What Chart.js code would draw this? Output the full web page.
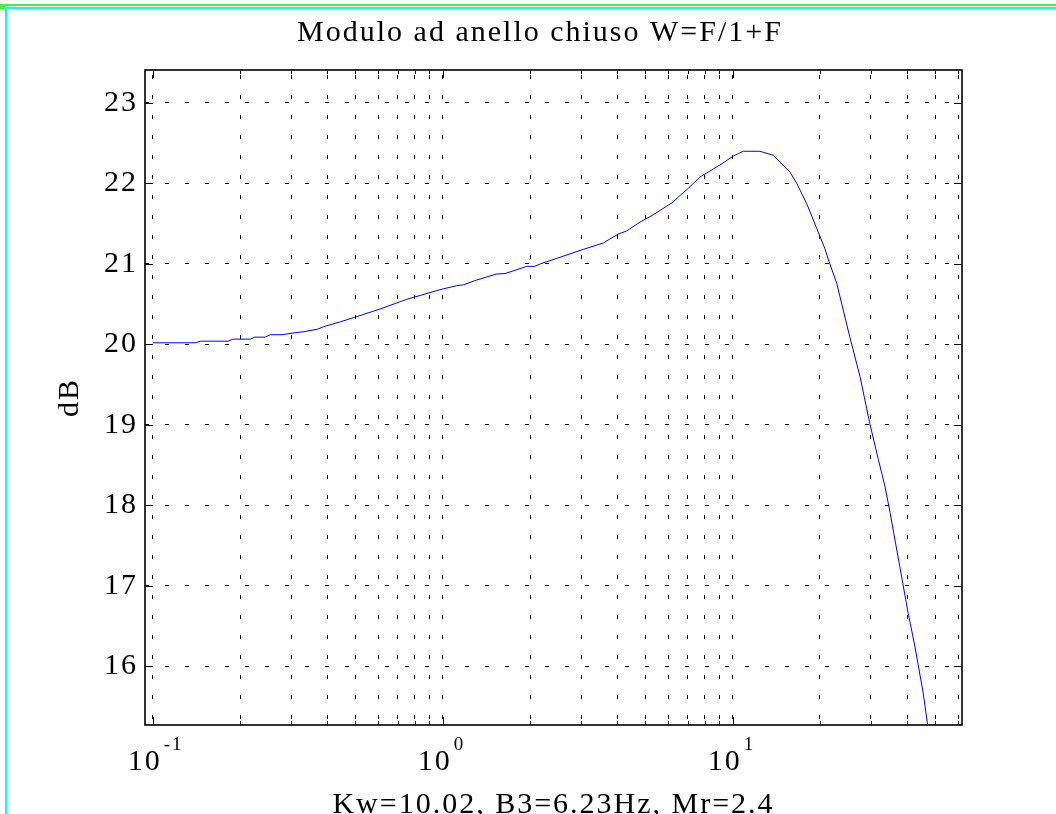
<!DOCTYPE html>
<html><head><meta charset="utf-8">
<script src="https://cdn.jsdelivr.net/npm/chart.js@4/dist/chart.umd.min.js"></script>
<style>html,body{margin:0;padding:0;background:#fff;overflow:hidden}canvas{display:block}</style>
</head><body>
<canvas id="c" width="1056" height="814"></canvas>
<script>
// ---- data ----
const freqHz = [0.1, 0.14, 0.146, 0.182, 0.189, 0.217, 0.225, 0.244, 0.254, 0.279, 0.302, 0.335, 0.371, 0.388, 0.443, 0.505, 0.608, 0.751, 0.979, 1.117, 1.178, 1.31, 1.535, 1.64, 1.95, 2.08, 2.17, 3.05, 3.58, 3.77, 4.03, 4.31, 4.79, 5.32, 6.24, 6.58, 6.94, 7.31, 7.71, 8.13, 9.04, 10.05, 10.45, 10.88, 12.42, 13.8, 15.77, 16.64, 18.0, 19.5, 20.8, 21.4, 22.85, 25.4, 27.5, 29.7, 31.8, 33.5, 34.9, 37.7, 40.3, 42.5, 45.4, 47.0];
const magnitudeDb = [20.02, 20.02, 20.04, 20.04, 20.065, 20.065, 20.09, 20.09, 20.12, 20.12, 20.14, 20.16, 20.19, 20.22, 20.28, 20.345, 20.44, 20.56, 20.68, 20.73, 20.74, 20.80, 20.875, 20.88, 20.97, 20.97, 21.0, 21.18, 21.26, 21.31, 21.37, 21.41, 21.52, 21.61, 21.77, 21.85, 21.92, 22.0, 22.08, 22.13, 22.23, 22.34, 22.37, 22.40, 22.40, 22.35, 22.14, 22.0, 21.75, 21.44, 21.19, 21.05, 20.76, 20.08, 19.60, 19.02, 18.57, 18.24, 17.91, 17.24, 16.66, 16.25, 15.67, 15.28];
const xTickValues = [0.1,0.2,0.3,0.4,0.5,0.6,0.7,0.8,0.9,1,2,3,4,5,6,7,8,9,10,20,30,40,50,60];
const xDecades = [0.1, 1, 10];
const xDecadeExponents = ['-1', '0', '1'];
const yTickValues = [16,17,18,19,20,21,22,23];
const titleText = 'Modulo ad anello chiuso W=F/1+F';
const yAxisLabel = 'dB';
const xAxisLabel = 'Kw=10.02, B3=6.23Hz, Mr=2.4';

const SERIF = "'Liberation Serif', 'Times New Roman', serif";
const SPACING = '2px';
const LABEL_OFFSET = -8;

const spacingPlugin = {
  id: 'spacing',
  beforeUpdate(c){ c.ctx.letterSpacing = SPACING; },
  beforeLayout(c){ c.ctx.letterSpacing = SPACING; },
  beforeDraw(c){
    const ctx = c.ctx;
    ctx.save();
    ctx.fillStyle = '#fff';
    ctx.fillRect(0,0,c.width,c.height);
    // window frame lines
    ctx.fillStyle = '#3cf53c';
    ctx.fillRect(0,4,c.width,2);
    ctx.fillRect(0,4,5,5);
    ctx.fillStyle = '#00ffff';
    ctx.fillRect(5,7,c.width-5,2);
    ctx.fillRect(5,7,2,c.height-7);
    ctx.restore();
    ctx.letterSpacing = SPACING;
  },
  afterDraw(c){
    const ctx = c.ctx;
    const a = c.chartArea;
    const xs = c.scales.x, ys = c.scales.y;
    ctx.save();
    ctx.letterSpacing = '0px';
    ctx.strokeStyle = '#000';
    ctx.lineWidth = 1;
    ctx.beginPath();
    xTickValues.forEach(v => {
      const px = Math.round(xs.getPixelForValue(v)) + 0.5;
      const len = xDecades.includes(v) ? 8 : 4;
      ctx.moveTo(px, a.bottom); ctx.lineTo(px, a.bottom - len);
      ctx.moveTo(px, a.top); ctx.lineTo(px, a.top + len);
    });
    yTickValues.forEach(v => {
      const py = Math.round(ys.getPixelForValue(v)) + 0.5;
      ctx.moveTo(a.left, py); ctx.lineTo(a.left + 8, py);
      ctx.moveTo(a.right, py); ctx.lineTo(a.right - 8, py);
    });
    ctx.stroke();
    ctx.lineWidth = 1.6;
    ctx.strokeRect(a.left, a.top, a.right - a.left, a.bottom - a.top);
    // decade exponents
    ctx.fillStyle = '#000';
    ctx.font = '19px ' + SERIF;
    ctx.letterSpacing = '2px';
    ctx.textAlign = 'left';
    ctx.textBaseline = 'alphabetic';
    xDecades.forEach((v, i) => {
      const px = xs.getPixelForValue(v);
      ctx.fillText(xDecadeExponents[i], px + LABEL_OFFSET + 17 + 2, a.bottom + 25);
    });
    ctx.restore();
  }
};

const font30 = { family: SERIF, size: 30, weight: 'normal' };

new Chart(document.getElementById('c'), {
  type: 'line',
  data: {
    datasets: [{
      data: freqHz.map((f, i) => ({ x: f, y: magnitudeDb[i] })),
      borderColor: '#0000ff',
      borderWidth: 1,
      pointRadius: 0,
      tension: 0,
      fill: false
    }]
  },
  options: {
    responsive: false,
    animation: false,
    devicePixelRatio: 1,
    layout: { padding: { left: 24, right: 0, top: 0, bottom: 0 } },
    plugins: {
      legend: { display: false },
      tooltip: { enabled: false },
      title: { display: true, text: titleText, color: '#000', font: font30, padding: { top: 15, bottom: 19 } }
    },
    scales: {
      x: {
        type: 'logarithmic', min: 0.094, max: 61.8, position: 'bottom',
        afterBuildTicks: s => { s.ticks = xTickValues.map(v => ({ value: v })); },
        afterFit: s => { s.height = 89; },
        ticks: {
          autoSkip: false, maxRotation: 0, minRotation: 0, color: '#000', font: font30,
          padding: 19, labelOffset: LABEL_OFFSET,
          callback: v => (xDecades.includes(v) ? '10' : '')
        },
        grid: { color: '#000', lineWidth: 1, drawTicks: false },
        border: { display: false, dash: [4, 16], dashOffset: 15 },
        title: { display: true, text: xAxisLabel, color: '#000', font: font30, padding: { top: 0, bottom: -9 } }
      },
      y: {
        type: 'linear', min: 15.27, max: 23.41, position: 'left',
        afterBuildTicks: s => { s.ticks = yTickValues.map(v => ({ value: v })); },
        afterFit: s => { s.width = 121; },
        ticks: { color: '#000', font: font30, padding: 7, callback: v => String(v) },
        grid: { color: '#000', lineWidth: 1, drawTicks: false },
        border: { display: false, dash: [4, 16], dashOffset: 0 },
        title: { display: true, text: yAxisLabel, color: '#000', font: font30, padding: { top: 28, bottom: 0 } }
      },
      yRight: {
        type: 'linear', position: 'right', min: 15.27, max: 23.41,
        afterFit: s => { s.width = 94; },
        ticks: { display: false },
        grid: { display: false, drawOnChartArea: false },
        border: { display: false }
      }
    }
  },
  plugins: [spacingPlugin]
});
</script>
</body></html>
